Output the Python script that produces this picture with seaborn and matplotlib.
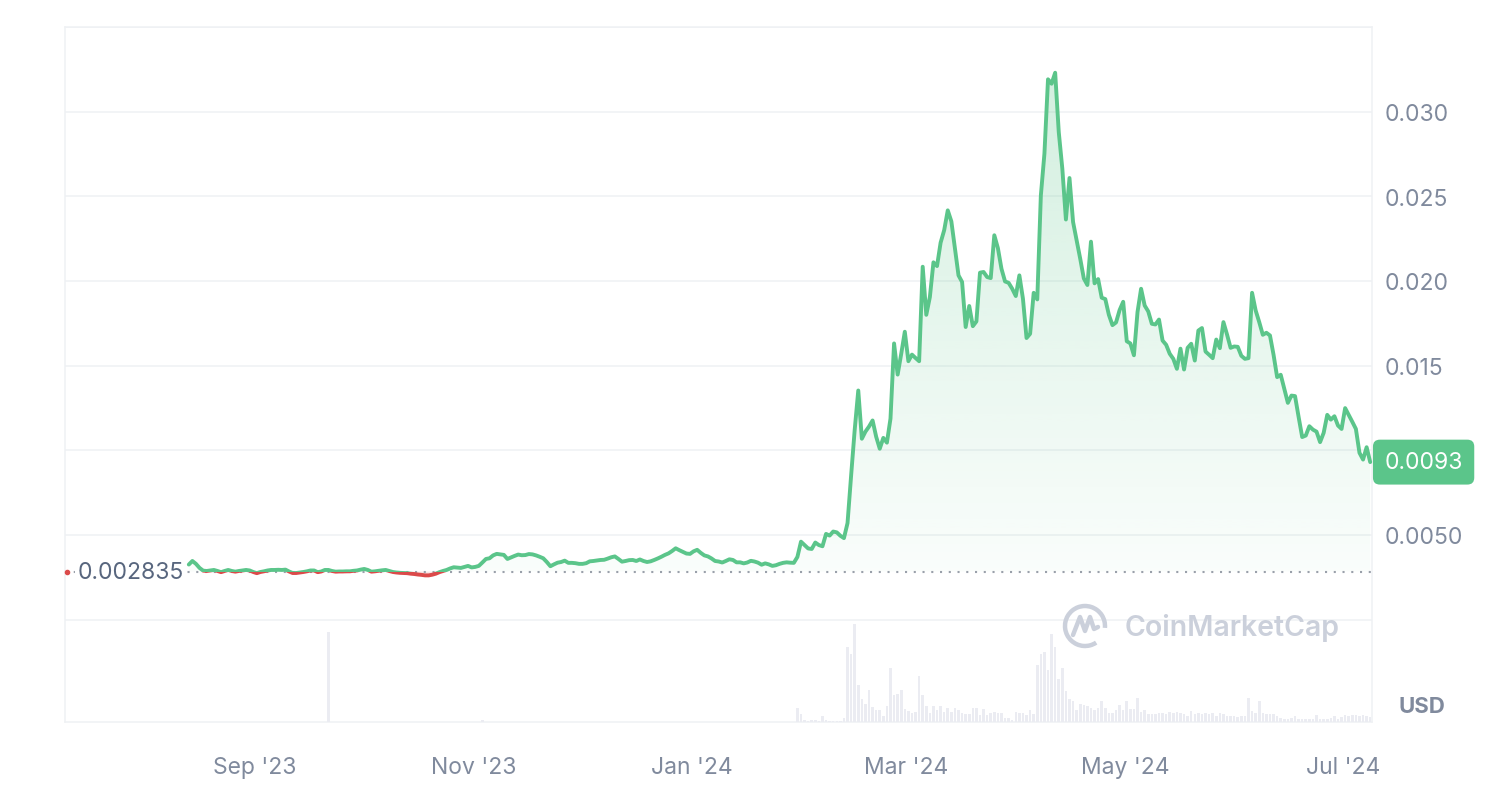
import numpy as np
import pandas as pd
import matplotlib
matplotlib.use("Agg")
import matplotlib.pyplot as plt
import matplotlib.dates as mdates
import matplotlib.transforms as mtransforms
from matplotlib.patches import Rectangle, Arc
from matplotlib.lines import Line2D
from matplotlib.path import Path
import seaborn as sns

# daily price (USD), 14 Aug 2023 .. 9 Jul 2024
price_aug23 = [0.00325, 0.00346, 0.00329, 0.00305, 0.00289, 0.00287, 0.0029, 0.00293, 0.00287,
               0.0028, 0.00287, 0.00293, 0.00287, 0.00283, 0.00287, 0.0029, 0.00293, 0.0029]
price_sep23 = [0.00281, 0.00274, 0.00281, 0.00285, 0.0029, 0.00293, 0.00293, 0.00294, 0.00293, 0.00295,
               0.00284, 0.00275, 0.00275, 0.00278, 0.00281, 0.00285, 0.0029, 0.0029, 0.0028, 0.00284,
               0.00293, 0.00293, 0.00287, 0.00283, 0.00284, 0.00284, 0.00285, 0.00285, 0.00288, 0.0029]
price_oct23 = [0.00295, 0.00299, 0.00293, 0.00283, 0.00285, 0.00288, 0.00291, 0.00293, 0.00287, 0.00281,
               0.00278, 0.00276, 0.00275, 0.00274, 0.00271, 0.00269, 0.00266, 0.00264, 0.00261, 0.00261,
               0.00265, 0.00271, 0.0028, 0.00287, 0.00293, 0.00302, 0.00309, 0.00307, 0.00305, 0.00311, 0.00317]
price_nov23 = [0.00308, 0.00311, 0.00317, 0.00337, 0.00358, 0.00362, 0.00379, 0.00388, 0.00385, 0.00382,
               0.00358, 0.00367, 0.00376, 0.00384, 0.0038, 0.00381, 0.00387, 0.00385, 0.00379, 0.00371,
               0.00362, 0.0034, 0.00315, 0.00326, 0.00336, 0.0034, 0.00348, 0.00335, 0.00335, 0.00333]
price_dec23 = [0.00329, 0.00329, 0.00333, 0.00344, 0.00346, 0.00349, 0.00352, 0.00353, 0.0036, 0.00368,
               0.00373, 0.00358, 0.00342, 0.00346, 0.00351, 0.00352, 0.00346, 0.00355, 0.00346, 0.0034,
               0.00344, 0.00352, 0.00361, 0.00371, 0.00382, 0.00391, 0.00405, 0.00421, 0.0041, 0.004, 0.0039]
price_jan24 = [0.00388, 0.00403, 0.00412, 0.00394, 0.00379, 0.00373, 0.00361, 0.00346, 0.00343, 0.00337,
               0.00346, 0.00356, 0.00352, 0.00338, 0.00338, 0.00332, 0.00337, 0.00347, 0.00343, 0.00336,
               0.00324, 0.00332, 0.00326, 0.00317, 0.00321, 0.00329, 0.00335, 0.00338, 0.00336, 0.00335, 0.0037]
price_feb24 = [0.0046, 0.0044, 0.0042, 0.00417, 0.00455, 0.0044, 0.00433, 0.00506, 0.00496, 0.0052,
               0.00515, 0.00495, 0.00481, 0.0057, 0.0085, 0.0112, 0.01353, 0.01068, 0.0111, 0.0114,
               0.01176, 0.0108, 0.01009, 0.01073, 0.01045, 0.01187, 0.01631, 0.01447, 0.0157]
price_mar24 = [0.017, 0.01526, 0.01565, 0.01545, 0.01526, 0.02084, 0.018, 0.01905, 0.0211, 0.02088,
               0.02226, 0.023, 0.02417, 0.02352, 0.0219, 0.02033, 0.01994, 0.01728, 0.01852, 0.01733,
               0.01761, 0.02049, 0.02053, 0.02023, 0.02017, 0.0227, 0.02194, 0.02072, 0.01997, 0.01989, 0.01954]
price_apr24 = [0.01911, 0.02033, 0.01895, 0.01663, 0.01688, 0.0193, 0.01891, 0.02505, 0.02752, 0.03191,
               0.03165, 0.0323, 0.0288, 0.02663, 0.02363, 0.02608, 0.02348, 0.0224, 0.02131, 0.02015,
               0.01976, 0.02232, 0.01986, 0.02011, 0.01901, 0.01893, 0.018, 0.01739, 0.01755, 0.01828]
price_may24 = [0.01877, 0.01644, 0.01631, 0.01561, 0.01816, 0.01954, 0.01855, 0.0182, 0.01747, 0.01743,
               0.01772, 0.01648, 0.01623, 0.0157, 0.0154, 0.01481, 0.016, 0.01477, 0.01605, 0.01629,
               0.0153, 0.01707, 0.01722, 0.01583, 0.01564, 0.01544, 0.01654, 0.01603, 0.01757, 0.01684, 0.01605]
price_jun24 = [0.01613, 0.01611, 0.01558, 0.0154, 0.01544, 0.0193, 0.01826, 0.01757, 0.01682, 0.01694,
               0.01678, 0.01564, 0.01432, 0.01446, 0.01363, 0.0128, 0.01323, 0.0132, 0.01197, 0.01078,
               0.01087, 0.01142, 0.01122, 0.0111, 0.01048, 0.01103, 0.01209, 0.01181, 0.01201, 0.01146]
price_jul24 = [0.01126, 0.01249, 0.01209, 0.01168, 0.01126, 0.00985, 0.00945, 0.01018, 0.0093]

# daily volume (relative), 31 Jan 2024 .. 9 Jul 2024; earlier days are near zero
vol_jan24 = [14]
vol_feb24 = [8, 2, 1, 2, 2, 1, 6, 2, 1, 1, 1, 1, 4, 75, 68, 98, 37, 23, 18, 32,
             15, 12, 12, 6, 16, 54, 27, 28, 32]
vol_mar24 = [13, 11, 9, 10, 46, 27, 16, 9, 16, 12, 16, 10, 14, 10, 14, 12, 9, 8, 8, 14,
             14, 7, 13, 7, 9, 10, 9, 9, 4, 4, 2]
vol_apr24 = [10, 9, 9, 7, 12, 8, 57, 68, 70, 52, 88, 75, 43, 54, 31, 23, 21, 12, 18, 17,
             16, 14, 12, 14, 21, 14, 9, 9, 12, 17]
vol_may24 = [12, 21, 13, 13, 24, 10, 12, 8, 8, 8, 9, 9, 8, 10, 9, 10, 9, 8, 6, 11,
             8, 9, 8, 9, 8, 9, 6, 9, 8, 6, 6]
vol_jun24 = [6, 5, 6, 6, 24, 11, 9, 21, 9, 8, 8, 8, 6, 4, 3, 3, 4, 6, 3, 3,
             3, 3, 3, 7, 3, 3, 3, 4, 6, 3]
vol_jul24 = [5, 7, 6, 7, 7, 6, 7, 6, 5]
early_vol_dates = ['2023-09-22', '2023-11-04']
early_vol = [90, 2]

base_price = 0.002835
ytick_values = [0.0, 0.005, 0.010, 0.015, 0.020, 0.025, 0.030, 0.035]
ytick_labels = ['', '0.0050', '', '0.015', '0.020', '0.025', '0.030', '']
xtick_dates = ['2023-09-01', '2023-11-01', '2024-01-01', '2024-03-01', '2024-05-01', '2024-07-01']
xtick_labels = ["Sep '23", "Nov '23", "Jan '24", "Mar '24", "May '24", "Jul '24"]

prices = np.array(price_aug23 + price_sep23 + price_oct23 + price_nov23 + price_dec23 + price_jan24
                  + price_feb24 + price_mar24 + price_apr24 + price_may24 + price_jun24 + price_jul24)
dates = pd.date_range('2023-08-14', periods=len(prices), freq='D')
volume = vol_jan24 + vol_feb24 + vol_mar24 + vol_apr24 + vol_may24 + vol_jun24 + vol_jul24
vol_dates = pd.date_range('2024-01-31', periods=len(volume), freq='D')

GREEN = '#5bc58a'
RED = '#db4a4a'
GREY = '#808a9d'
DARK = '#58667e'
GRID = '#eff1f4'

sns.set_style('white')
plt.rcParams['font.family'] = ['Inter', 'DejaVu Sans']

W, H = 1486, 804
fig = plt.figure(figsize=(W / 100, H / 100), dpi=100)
ax = fig.add_axes([65 / W, 81 / H, 1307 / W, 695 / H])

df = pd.DataFrame({'date': dates, 'price': prices})

# gradient area above the baseline
xnum = mdates.date2num(dates)
grad = np.zeros((256, 1, 4))
grad[..., :3] = matplotlib.colors.to_rgb(GREEN)
grad[:, 0, 3] = np.linspace(0.03, 0.27, 256)
area = ax.fill_between(dates, prices, base_price, where=prices >= base_price, interpolate=True,
                       facecolor='none', edgecolor='none')
img = ax.imshow(grad, extent=[xnum[0], xnum[-1], base_price, prices.max()], origin='lower',
                aspect='auto', interpolation='bilinear', zorder=1)
img.set_clip_path(Path.make_compound_path(*area.get_paths()), transform=ax.transData)
ax.fill_between(dates, prices, base_price, where=prices < base_price, interpolate=True,
                color=RED, alpha=0.15, lw=0, zorder=1)

ax.axhline(base_price, color='#9aa0aa', lw=1.5, linestyle=(0, (1, 3.2)), zorder=1.5)

# price line: green above the baseline, red below
sns.lineplot(data=df, x='date', y='price', ax=ax, color=GREEN, lw=2.8, estimator=None, zorder=3)
sns.lineplot(data=df, x='date', y='price', ax=ax, color=RED, lw=2.8, estimator=None, zorder=3)
green_line, red_line = ax.lines[-2], ax.lines[-1]
green_line.set_clip_path(Rectangle((xnum[0] - 400, base_price), 1000, 1, transform=ax.transData))
red_line.set_clip_path(Rectangle((xnum[0] - 400, base_price - 1), 1000, 1, transform=ax.transData))

# volume bars on a twin axis
ax2 = ax.twinx()
ax2.bar(vol_dates, volume, width=0.72, color='#ebecf2', lw=0)
ax2.bar(pd.to_datetime(early_vol_dates), early_vol, width=0.72, color='#ebecf2', lw=0)
ax2.set_ylim(0, 695)
ax2.set_axis_off()

ax.set_xlim(pd.Timestamp('2023-07-10 10:00'), pd.Timestamp('2024-07-09 12:00'))
ax.set_ylim(-0.00605, 0.035)
ax.set_yticks(ytick_values)
ax.set_yticklabels(ytick_labels)
ax.yaxis.tick_right()
ax.tick_params(axis='y', length=0, pad=9.4, labelsize=16.5, labelcolor=GREY)
ax.set_xticks([pd.Timestamp(d) + pd.Timedelta(hours=12) for d in xtick_dates])
ax.set_xticklabels(xtick_labels)
ax.tick_params(axis='x', length=0, pad=24.5, labelsize=16.5, labelcolor=GREY)
ax.grid(axis='y', color=GRID, lw=1.1)
ax.grid(axis='x', visible=False)
ax.set_xlabel('')
ax.set_ylabel('')
for s in ax.spines.values():
    s.set_visible(True)
    s.set_color(GRID)
    s.set_linewidth(1.1)

blend = mtransforms.blended_transform_factory(ax.transAxes, ax.transData)
ax.text(0.0095, base_price, f'{base_price:.6f}', transform=blend, ha='left', va='center',
        fontsize=16.5, color=DARK, zorder=5,
        bbox=dict(boxstyle='square,pad=0.1', fc='white', ec='none'))
ax.plot([0.0015], [base_price], 'o', ms=3, color=RED, transform=blend, clip_on=False, zorder=5)
ax.text(1.0095, prices[-1], f'{prices[-1]:.4f}', transform=blend, ha='left', va='center',
        fontsize=16.5, color='white', clip_on=False, zorder=10,
        bbox=dict(boxstyle='round,pad=0.5,rounding_size=0.3', fc=GREEN, ec='none'))

fig.text(1422 / W, 1 - 707 / H, 'USD', ha='center', va='center', fontsize=16,
         fontweight='bold', color=GREY)

# watermark
WM = '#cbd0db'
fig.text(1125 / W, 1 - 628 / H, 'CoinMarketCap', ha='left', va='center', fontsize=20.5,
         fontweight='semibold', color=WM)
cx, cy, r = 1085, 627, 20
fig.add_artist(Arc((cx / W, 1 - cy / H), 2 * r / W, 2 * r / H, theta1=-10, theta2=290,
                   transform=fig.transFigure, lw=3.2, color=WM))
wave = [(-12, -9), (-5, 9), (0, -5), (5, 9), (9, -3), (13, -1)]
fig.add_artist(Line2D([(cx + dx) / W for dx, dy in wave], [1 - (cy - dy) / H for dx, dy in wave],
                      transform=fig.transFigure, lw=3.2, color=WM, solid_joinstyle='round'))

fig.savefig('out.png', dpi=100, facecolor='white')
